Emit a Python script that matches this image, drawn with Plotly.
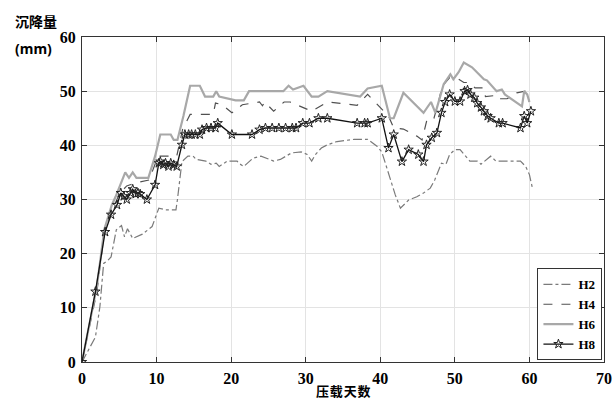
import plotly.graph_objects as go

# ---- data ----
h2_x = [0, 1.8, 2.4, 2.9, 3.5, 3.9, 4.6, 5.3, 5.7, 6.1, 6.8, 8.1, 9.4, 10.3, 11.2, 12.6, 12.8, 13.4, 14.2,
        14.9, 15.3, 16.6, 17.3, 18.0, 18.4, 19.5, 20.8, 21.0, 21.7, 22.9, 24.0, 24.6, 25.7, 26.6, 28.1,
        29.4, 30.2, 30.8, 31.3, 32.1, 32.9, 34.2, 36.5, 38.3, 39.6, 40.2, 41.1, 42.0, 42.7, 43.8, 44.9,
        45.8, 46.7, 47.3, 48.2, 48.8, 49.3, 50.0, 50.7, 51.5, 52.0, 53.0, 53.5, 54.8, 55.5, 58.8, 59.5,
        60.0, 60.4]
h2_y = [0, 4.6, 10.2, 18.2, 18.8, 19.4, 24.4, 25.2, 23.1, 24.6, 22.8, 23.6, 25.0, 28.4, 28.1, 28.1, 30.0, 37.0, 38.0,
        38.0, 37.4, 37.1, 36.5, 36.7, 36.1, 37.1, 37.1, 36.7, 36.1, 37.6, 38.0, 37.7, 37.1, 37.4, 38.6,
        38.8, 38.3, 37.1, 38.3, 39.5, 40.1, 40.7, 41.1, 41.1, 39.8, 38.8, 34.9, 30.9, 28.4, 29.9, 30.5,
        31.2, 32.1, 33.6, 36.7, 36.5, 38.3, 39.2, 39.2, 38.0, 37.1, 37.1, 36.5, 38.0, 37.1, 37.1, 36.1,
        34.6, 32.1]

h4_x = [0, 2.0, 3.0, 4.0, 5.1, 6.0, 7.0, 9.0, 10.2, 12.7, 13.5, 14.5, 17.6, 17.9, 18.8, 20.1, 21.5, 23.8,
        24.2, 24.5, 25.7, 27.1, 27.9, 30.8, 32.9, 36.9, 38.3, 41.1, 41.8, 43.1, 44.9, 45.6, 46.3, 47.2,
        47.8, 48.3, 49.3, 50.5, 51.2, 52.0, 52.7, 53.9, 54.1, 55.5, 55.7, 57.0, 58.3, 59.4, 60.0]
h4_y = [0, 13.0, 24.0, 28.0, 31.2, 32.5, 33.0, 33.6, 38.0, 38.0, 43.0, 45.7, 45.7, 47.8, 47.5, 46.0, 47.5, 48.0,
        47.3, 48.0, 46.3, 48.0, 48.0, 46.3, 48.0, 47.4, 49.4, 45.4, 43.2, 43.0, 41.7, 41.0, 45.0, 45.0,
        48.0, 50.9, 52.5, 52.2, 51.6, 51.6, 50.6, 50.6, 49.0, 49.2, 48.6, 48.6, 49.7, 50.0, 48.0]

h6_x = [0, 2.0, 3.0, 4.0, 4.5, 5.2, 5.8, 6.3, 6.8, 7.3, 8.0, 8.9, 9.8, 10.5, 11.9, 12.3, 12.8, 13.6, 14.5,
        15.8, 16.5, 17.6, 18.0, 18.4, 20.6, 21.7, 22.4, 27.0, 27.7, 28.3, 29.7, 30.8, 31.7, 32.9, 37.3,
        38.3, 40.2, 41.3, 41.8, 43.1, 45.8, 46.8, 47.4, 48.5, 49.4, 49.8, 50.5, 51.2, 52.3, 53.9, 54.3,
        55.6, 56.3, 56.7, 59.0, 59.3, 59.7, 60.0]
h6_y = [0, 14.0, 24.5, 29.0, 30.5, 33.0, 35.0, 34.0, 35.0, 34.0, 34.0, 34.0, 38.0, 42.0, 42.0, 41.0, 41.0, 45.4, 51.0,
        51.0, 49.0, 49.0, 50.0, 49.0, 48.3, 48.3, 50.0, 50.0, 51.0, 50.3, 51.0, 49.0, 49.0, 50.0, 49.0,
        50.5, 51.0, 45.0, 45.0, 49.7, 46.0, 48.0, 46.0, 51.3, 53.1, 52.2, 53.5, 55.3, 54.4, 52.2, 52.0,
        50.0, 50.3, 49.4, 47.2, 50.0, 49.4, 48.0]

h8_x = [0, 1.8, 3.1, 3.9, 4.7, 5.2, 5.6, 6.0, 6.5, 6.8, 7.2, 7.5, 7.8, 8.7, 9.8, 10.3, 10.5, 10.9, 11.2,
        11.6, 11.9, 12.3, 12.7, 13.4, 13.8, 14.3, 14.7, 15.2, 15.8, 16.1, 16.7, 17.3, 17.9, 18.2, 20.1,
        22.8, 23.8, 24.6, 25.5, 26.4, 27.3, 28.2, 28.7, 29.6, 30.5, 31.7, 32.9, 36.9, 37.9, 38.3, 40.2,
        41.1, 41.8, 42.9, 43.8, 45.1, 45.8, 46.2, 46.9, 47.6, 48.2, 48.7, 49.3, 50.0, 50.7, 51.3, 51.7,
        52.1, 52.6, 53.0, 53.5, 53.9, 54.4, 54.8, 55.9, 56.4, 58.8, 59.3, 59.7, 60.2]
h8_y = [0, 13.0, 24.0, 27.2, 29.0, 31.2, 30.6, 30.0, 31.2, 31.9, 31.0, 31.2, 31.0, 30.0, 32.7, 36.7, 37.0, 36.4, 36.7,
        36.1, 36.7, 36.4, 36.1, 40.1, 42.0, 42.0, 42.0, 42.0, 42.0, 42.9, 43.2, 43.2, 43.2, 44.1, 42.0,
        42.0, 42.9, 43.2, 43.2, 43.2, 43.2, 43.2, 43.2, 44.1, 44.1, 45.0, 45.0, 44.1, 44.1, 44.1, 45.0,
        39.5, 42.0, 37.0, 39.2, 38.3, 37.0, 40.1, 41.4, 42.3, 46.0, 48.0, 49.4, 48.1, 48.1, 50.0, 50.2,
        49.4, 48.8, 47.8, 47.0, 46.3, 45.4, 45.0, 44.1, 44.1, 43.2, 45.4, 44.1, 46.3]

x_ticks = [0, 10, 20, 30, 40, 50, 60, 70]
y_ticks = [0, 10, 20, 30, 40, 50, 60]
series_names = ["H2", "H4", "H6", "H8"]

serif_bold = dict(family="Liberation Serif, Times New Roman, serif", size=16, color="black", weight="bold")
legend_font = dict(family="Liberation Serif, Times New Roman, serif", size=13, color="black", weight="bold")

fig = go.Figure()
fig.add_trace(go.Scatter(x=h2_x, y=h2_y, mode="lines", name=series_names[0],
                         line=dict(color="#7a7a7a", width=1.2, dash="dashdot")))
fig.add_trace(go.Scatter(x=h4_x, y=h4_y, mode="lines", name=series_names[1],
                         line=dict(color="#505050", width=1.2, dash="dash")))
fig.add_trace(go.Scatter(x=h6_x, y=h6_y, mode="lines", name=series_names[2],
                         line=dict(color="#a8a8a8", width=2.2)))
fig.add_trace(go.Scatter(x=h8_x, y=h8_y, mode="lines+markers", name=series_names[3],
                         line=dict(color="#111111", width=1.3),
                         marker=dict(symbol="star-open", size=7, color="#222222",
                                     line=dict(width=1, color="#222222"))))

axis_common = dict(showline=True, linecolor="#333333", linewidth=1, mirror="ticks",
                   ticks="inside", ticklen=5, tickcolor="#333333",
                   showgrid=True, gridcolor="#e3e3e3", gridwidth=1, zeroline=False,
                   automargin=False, tickfont=serif_bold)

fig.update_xaxes(range=[0, 70], tickvals=x_ticks, ticktext=[str(v) for v in x_ticks],
                 ticklabelstandoff=2, **axis_common)
fig.update_yaxes(range=[0, 60], tickvals=y_ticks, ticktext=[str(v) for v in y_ticks],
                 ticklabelstandoff=2, **axis_common)

fig.update_layout(
    width=614, height=401,
    margin=dict(l=82, r=10, t=37, b=39, autoexpand=False),
    paper_bgcolor="white", plot_bgcolor="white",
    showlegend=True,
    legend=dict(x=0.997, y=0.005, xanchor="right", yanchor="bottom",
                bgcolor="white", bordercolor="#333333", borderwidth=1,
                font=legend_font, tracegroupgap=0, itemwidth=30),
    annotations=[
        dict(text="<b>沉降量</b>", xref="paper", yref="paper", x=-0.132, y=1.048,
             xanchor="left", yanchor="middle", showarrow=False,
             font=dict(family="Noto Sans CJK SC", size=14, color="black")),
        dict(text="<b>(mm)</b>", xref="paper", yref="paper", x=-0.132, y=0.965,
             xanchor="left", yanchor="middle", showarrow=False,
             font=dict(family="Noto Sans, DejaVu Sans, sans-serif", size=14, color="black")),
        dict(text="<b>压\u200a载\u200a天\u200a数</b>", xref="paper", yref="paper", x=0.5, y=-0.12,
             xanchor="center", yanchor="bottom", showarrow=False, borderpad=0,
             font=dict(family="Noto Sans CJK SC", size=13, color="black")),
    ],
)

# remove the default 8px page margin so the figure fills the 614x401 window exactly
fig.write_html("out.html", config={"displayModeBar": False},
               post_script="document.body.style.margin='0';")
